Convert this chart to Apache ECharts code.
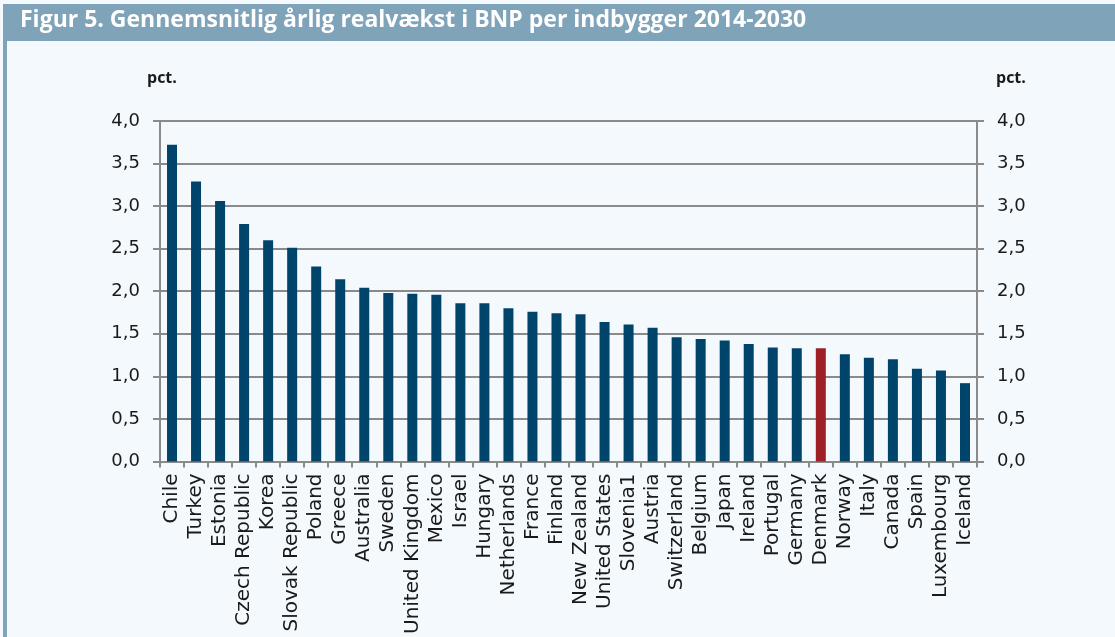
<!DOCTYPE html>
<html>
<head>
<meta charset="utf-8">
<script src="https://cdn.jsdelivr.net/npm/echarts@6/dist/echarts.min.js"></script>
<style>
  html, body { margin: 0; padding: 0; background: #f4f9fd; }
  #chart { width: 1115px; height: 637px; }
</style>
</head>
<body>
<div id="chart"></div>
<script>
// data
var countries = ['Chile', 'Turkey', 'Estonia', 'Czech Republic', 'Korea', 'Slovak Republic', 'Poland',
  'Greece', 'Australia', 'Sweden', 'United Kingdom', 'Mexico', 'Israel', 'Hungary', 'Netherlands',
  'France', 'Finland', 'New Zealand', 'United States', 'Slovenia1', 'Austria', 'Switzerland',
  'Belgium', 'Japan', 'Ireland', 'Portugal', 'Germany', 'Denmark', 'Norway', 'Italy', 'Canada',
  'Spain', 'Luxembourg', 'Iceland'];
var growth = [3.72, 3.29, 3.06, 2.79, 2.60, 2.51, 2.29, 2.14, 2.04, 1.98, 1.97, 1.96, 1.86, 1.86,
  1.80, 1.76, 1.74, 1.73, 1.64, 1.61, 1.57, 1.46, 1.44, 1.42, 1.38, 1.34, 1.33, 1.33, 1.26, 1.22,
  1.20, 1.09, 1.07, 0.92];
var highlight = 'Denmark';
var yTicks = [0, 0.5, 1, 1.5, 2, 2.5, 3, 3.5, 4];

var myChart = echarts.init(document.getElementById('chart'));

function fmt(v) {
  return v.toFixed(1).replace('.', ',');
}

var barData = growth.map(function (v, i) {
  return {
    value: v,
    itemStyle: { color: countries[i] == highlight ? '#9e1f25' : '#00446c' }
  };
});

function valueAxis(pos, showGrid) {
  return {
    type: 'value',
    position: pos,
    min: yTicks[0],
    max: yTicks[yTicks.length - 1],
    interval: 0.5,
    axisLine: { show: true, lineStyle: { color: '#8a8a8a', width: 2 } },
    axisTick: { show: true, length: 7, lineStyle: { color: '#8a8a8a', width: 2 } },
    axisLabel: {
      formatter: fmt, color: '#1a1a1a', fontSize: 18,
      fontFamily: 'DejaVu Sans', margin: 20
    },
    splitLine: { show: showGrid, lineStyle: { color: '#8a8a8a', width: 2 } }
  };
}

var option = {
  backgroundColor: '#f4f9fd',
  animation: false,
  grid: { left: 160, right: 138, top: 121, bottom: 175 },
  graphic: [
    { type: 'rect', shape: { x: 3, y: 4, width: 1112, height: 37 }, style: { fill: '#7fa3b9' } },
    { type: 'rect', shape: { x: 3, y: 41, width: 4, height: 596 }, style: { fill: '#7fa3b9' } },
    {
      type: 'text', left: 20, top: 9,
      style: {
        text: 'Figur 5. Gennemsnitlig årlig realvækst i BNP per indbygger 2014-2030',
        fill: '#ffffff', font: 'bold 23px "Open Sans"'
      }
    },
    { type: 'text', left: 147, top: 70, style: { text: 'pct.', fill: '#1a1a1a', font: 'bold 16px "Open Sans"' } },
    { type: 'text', left: 996, top: 70, style: { text: 'pct.', fill: '#1a1a1a', font: 'bold 16px "Open Sans"' } }
  ],
  xAxis: {
    type: 'category',
    data: countries,
    axisLine: { lineStyle: { color: '#8a8a8a', width: 2 } },
    axisTick: { show: true, length: 6, lineStyle: { color: '#8a8a8a', width: 2 } },
    axisLabel: {
      interval: 0, rotate: 90, color: '#1a1a1a', fontSize: 20,
      fontFamily: 'DejaVu Sans', margin: 12
    }
  },
  yAxis: [valueAxis('left', true), valueAxis('right', false)],
  series: [{
    type: 'bar',
    data: barData,
    barWidth: 10
  }]
};

myChart.setOption(option);
</script>
</body>
</html>
